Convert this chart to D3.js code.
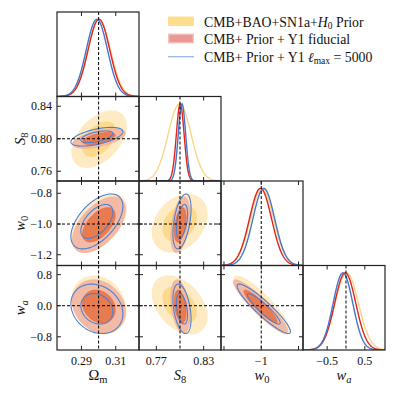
<!DOCTYPE html>
<html><head><meta charset="utf-8">
<script src="https://cdn.jsdelivr.net/npm/d3@7"></script>
<style>body{margin:0;background:#fff}</style>
</head><body>
<svg id="c" width="397" height="397" xmlns="http://www.w3.org/2000/svg"></svg>
<script>
// ---------- data ----------
const params = ["Ωm", "S8", "w0", "wa"];
const truth = [0.30, 0.80, -1.0, 0.0];
const domains = [[0.2757, 0.3236], [0.748, 0.852], [-1.27, -0.72], [-1.14, 1.035]];
const xTicks = [[0.29, 0.31], [0.77, 0.83], [-1.25, -1.0, -0.75], [-0.5, 0.5]];
const xTickLabels = [["0.29", "0.31"], ["0.77", "0.83"], ["", "−1", ""], ["−0.5", "0.5"]];
const yTicks = [[], [0.76, 0.80, 0.84], [-1.2, -1.0, -0.8], [-0.8, 0.0, 0.8]];
const yTickLabels = [[], ["0.76", "0.80", "0.84"], ["−1.2", "−1.0", "−0.8"], ["−0.8", "0.0", "0.8"]];
const seriesNames = ["CMB+BAO+SN1a+H0 Prior", "CMB+ Prior + Y1 fiducial", "CMB+ Prior + Y1 lmax = 5000"];
// means / standard deviations (Ωm, S8, w0, wa)
const meanPrior = [0.3003, 0.7995, -0.995, 0.02];
const meanFid   = [0.3002, 0.8003, -1.005, -0.02];
const meanLmax  = [0.2990, 0.8025, -0.983, -0.08];
const sigmaPrior = [0.0066, 0.0145, 0.078, 0.31];
const sigmaFid   = [0.0063, 0.0049, 0.074, 0.28];
const sigmaLmax  = [0.0062, 0.0047, 0.073, 0.26];
// correlations for pairs (Ωm,S8),(Ωm,w0),(Ωm,wa),(S8,w0),(S8,wa),(w0,wa)
const corrPrior = [0.45, 0.5, -0.2, 0.3, -0.4, -0.88];
const corrFid   = [0.55, 0.55, -0.2, 0.4, -0.35, -0.92];
const corrLmax  = [0.55, 0.55, -0.2, 0.45, -0.4, -0.92];
const levels = [0.95, 0.68];

// ---------- layout ----------
const X0 = 57, Y0 = 12, PW = 82, PH = 84.5, N = 4;
const FONT = "'Liberation Serif', 'DejaVu Serif', serif";
const svg = d3.select("#c");
const xs = d3.range(N).map(c => d3.scaleLinear().domain(domains[c]).range([X0 + c * PW, X0 + (c + 1) * PW]));
const ys = d3.range(N).map(r => d3.scaleLinear().domain(domains[r]).range([Y0 + (r + 1) * PH, Y0 + r * PH]));
const dens = d3.range(N).map(r => d3.scaleLinear().domain([0, 1.095]).range([Y0 + (r + 1) * PH, Y0 + r * PH]));

const series = [
  {mean: meanPrior, sigma: sigmaPrior, corr: corrPrior, fill: ["#feebc3", "#fdd98b"], stroke: null, line: "#fdd48a", lw: 1.4},
  {mean: meanFid, sigma: sigmaFid, corr: corrFid, fill: ["#f3bba6", "#e97b50"], stroke: ["#eeab95", "#e2693f"], line: "#e3241b", lw: 1.4},
  {mean: meanLmax, sigma: sigmaLmax, corr: corrLmax, fill: null, stroke: ["#4f7fcf", "#4f7fcf"], line: "#4477cc", lw: 1.4}
];
function pairIdx(i, j) { const a = Math.min(i, j), b = Math.max(i, j); const order = [[0,1],[0,2],[0,3],[1,2],[1,3],[2,3]]; return order.findIndex(p => p[0] === a && p[1] === b); }

const defs = svg.append("defs");
for (let r = 0; r < N; r++) for (let c = 0; c <= r; c++) {
  defs.append("clipPath").attr("id", `clip${r}${c}`).append("rect")
    .attr("x", X0 + c * PW).attr("y", Y0 + r * PH).attr("width", PW).attr("height", PH);
}

const line = d3.line();
for (let r = 0; r < N; r++) for (let c = 0; c <= r; c++) {
  const g = svg.append("g").attr("clip-path", `url(#clip${r}${c})`);
  const x = xs[c];
  if (r === c) {
    const y = dens[r];
    const grid = d3.range(0, 201).map(k => domains[c][0] + (domains[c][1] - domains[c][0]) * k / 200);
    series.forEach(s => {
      const pts = grid.map(v => [x(v), y(Math.exp(-0.5 * Math.pow((v - s.mean[c]) / s.sigma[c], 2)))]);
      g.append("path").attr("d", line(pts)).attr("fill", "none").attr("stroke", s.line).attr("stroke-width", s.lw);
    });
    g.append("line").attr("x1", x(truth[c])).attr("x2", x(truth[c])).attr("y1", Y0 + r * PH).attr("y2", Y0 + (r + 1) * PH)
      .attr("stroke", "#000").attr("stroke-width", 1).attr("stroke-dasharray", "3,2");
  } else {
    const y = ys[r];
    series.forEach(s => {
      const rho = s.corr[pairIdx(c, r)];
      levels.forEach((lev, li) => {
        const rad = Math.sqrt(-2 * Math.log(1 - lev));
        const pts = d3.range(0, 181).map(k => {
          const t = 2 * Math.PI * k / 180;
          const u = Math.cos(t), v = Math.sin(t);
          return [x(s.mean[c] + s.sigma[c] * rad * u), y(s.mean[r] + s.sigma[r] * rad * (rho * u + Math.sqrt(1 - rho * rho) * v))];
        });
        const p = g.append("path").attr("d", line(pts) + "Z");
        if (s.fill) p.attr("fill", s.fill[li]); else p.attr("fill", "none");
        if (s.stroke) p.attr("stroke", s.stroke[li]).attr("stroke-width", s.fill ? 0.7 : 1.1); else p.attr("stroke", "none");
      });
    });
    g.append("line").attr("x1", x(truth[c])).attr("x2", x(truth[c])).attr("y1", Y0 + r * PH).attr("y2", Y0 + (r + 1) * PH)
      .attr("stroke", "#000").attr("stroke-width", 1).attr("stroke-dasharray", "3,2");
    g.append("line").attr("y1", y(truth[r])).attr("y2", y(truth[r])).attr("x1", X0 + c * PW).attr("x2", X0 + (c + 1) * PW)
      .attr("stroke", "#000").attr("stroke-width", 1).attr("stroke-dasharray", "3,2");
  }
  // ticks (inward, all sides)
  const tk = svg.append("g").attr("stroke", "#222").attr("stroke-width", 1);
  const top = Y0 + r * PH, bot = Y0 + (r + 1) * PH, left = X0 + c * PW, right = X0 + (c + 1) * PW;
  xTicks[c].forEach(v => {
    tk.append("line").attr("x1", x(v)).attr("x2", x(v)).attr("y1", bot).attr("y2", bot - 4);
    tk.append("line").attr("x1", x(v)).attr("x2", x(v)).attr("y1", top).attr("y2", top + 4);
  });
  if (r !== c) {
    yTicks[r].forEach(v => {
      const yy = ys[r](v);
      tk.append("line").attr("x1", left).attr("x2", left + 4).attr("y1", yy).attr("y2", yy);
      tk.append("line").attr("x1", right).attr("x2", right - 4).attr("y1", yy).attr("y2", yy);
    });
  }
  svg.append("rect").attr("x", left).attr("y", top).attr("width", PW).attr("height", PH)
    .attr("fill", "none").attr("stroke", "#222").attr("stroke-width", 1.2);
  // tick labels
  if (r === N - 1) {
    xTicks[c].forEach((v, k) => {
      svg.append("text").attr("x", x(v)).attr("y", 364.5).attr("text-anchor", "middle")
        .attr("font-family", FONT).attr("font-size", 12).attr("fill", "#111").text(xTickLabels[c][k]);
    });
  }
  if (c === 0 && r > 0) {
    yTicks[r].forEach((v, k) => {
      svg.append("text").attr("x", 52).attr("y", ys[r](v)).attr("dy", "0.35em").attr("text-anchor", "end")
        .attr("font-family", FONT).attr("font-size", 12).attr("fill", "#111").text(yTickLabels[r][k]);
    });
  }
}

// ---------- axis labels ----------
function label(sel, i) {
  const t = sel.append("text").attr("font-family", FONT).attr("font-size", 14.5).attr("fill", "#111");
  if (i === 0) { t.append("tspan").text("Ω"); t.append("tspan").attr("dy", 3).attr("font-size", 10.5).text("m"); }
  if (i === 1) { t.append("tspan").attr("font-style", "italic").text("S"); t.append("tspan").attr("dy", 3).attr("font-size", 10.5).text("8"); }
  if (i === 2) { t.append("tspan").attr("font-style", "italic").text("w"); t.append("tspan").attr("dy", 3).attr("font-size", 10.5).text("0"); }
  if (i === 3) { t.append("tspan").attr("font-style", "italic").text("w"); t.append("tspan").attr("dy", 3).attr("font-size", 10.5).attr("font-style", "italic").text("a"); }
  return t;
}
for (let c = 0; c < N; c++) {
  label(svg.append("g").attr("transform", `translate(${X0 + (c + 0.5) * PW},380)`), c).attr("text-anchor", "middle");
}
for (let r = 1; r < N; r++) {
  label(svg.append("g").attr("transform", `translate(25,${Y0 + (r + 0.5) * PH}) rotate(-90)`), r).attr("text-anchor", "middle");
}

// ---------- legend ----------
const lg = svg.append("g").attr("font-family", FONT).attr("font-size", 13.8).attr("fill", "#111");
lg.append("rect").attr("x", 168).attr("y", 16.5).attr("width", 26).attr("height", 9.5).attr("fill", "#ffdf8f");
lg.append("rect").attr("x", 168.7).attr("y", 34.2).attr("width", 24.6).attr("height", 8.6).attr("fill", "#e99893").attr("stroke", "#f5c2bd").attr("stroke-width", 1.4);
lg.append("line").attr("x1", 168).attr("x2", 194).attr("y1", 56.7).attr("y2", 56.7).attr("stroke", "#9ab6e4").attr("stroke-width", 1.3);
const t1 = lg.append("text").attr("x", 204).attr("y", 26.5);
t1.append("tspan").text("CMB+BAO+SN1a+");
t1.append("tspan").attr("font-style", "italic").text("H");
t1.append("tspan").attr("dy", 2.5).attr("font-size", 9.5).text("0");
t1.append("tspan").attr("dy", -2.5).text(" Prior");
lg.append("text").attr("x", 204).attr("y", 44).text("CMB+ Prior + Y1 fiducial");
const t3 = lg.append("text").attr("x", 204).attr("y", 61.5);
t3.append("tspan").text("CMB+ Prior + Y1 ");
t3.append("tspan").attr("font-style", "italic").text("ℓ");
t3.append("tspan").attr("dy", 2.5).attr("font-size", 9.5).text("max");
t3.append("tspan").attr("dy", -2.5).text(" = 5000");
</script>
</body></html>
